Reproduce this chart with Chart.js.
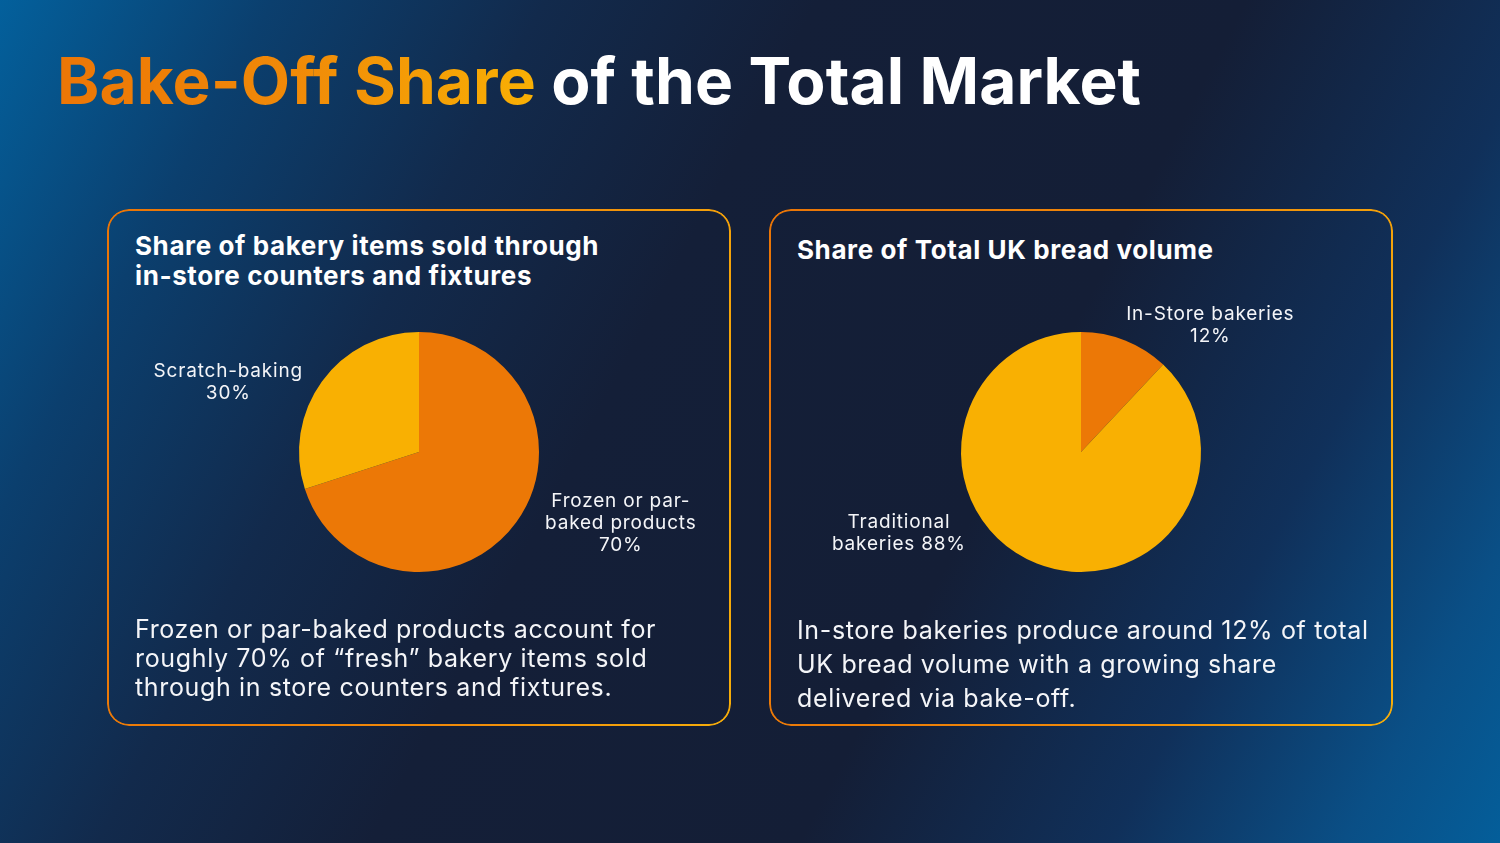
<!DOCTYPE html>
<html>
<head>
<meta charset="utf-8">
<script src="https://cdn.jsdelivr.net/npm/chart.js@4.4.1/dist/chart.umd.min.js"></script>
<style>
  html, body { margin: 0; padding: 0; }
  body {
    width: 1500px; height: 843px; overflow: hidden; position: relative;
    font-family: Inter, "Open Sans", sans-serif; color: #fff;
    background: linear-gradient(118deg, #03609c 0%, #0b3f6e 14%, #122a4c 28%, #141f38 42%, #141e36 64%, #10305a 80%, #0a4f86 92%, #045e9a 100%);
  }
  #title {
    position: absolute; left: 57px; top: 49px; margin: 0;
    font-size: 64px; line-height: 64px; font-weight: 700; white-space: nowrap; letter-spacing: 0.1px;
  }
  #title .hl {
    background: linear-gradient(90deg, #ec7606 0%, #f08a08 50%, #f9b004 100%);
    -webkit-background-clip: text; background-clip: text; color: transparent;
  }
  .card {
    position: absolute; top: 209px; width: 624px; height: 517px; border-radius: 22px;
  }
  .card::before {
    content: ""; position: absolute; inset: 0; border-radius: 22px; padding: 2px;
    background: linear-gradient(100deg, #ea7507 0%, #f08a0a 60%, #f6ad0a 100%);
    -webkit-mask: linear-gradient(#000 0 0) content-box, linear-gradient(#000 0 0);
    -webkit-mask-composite: xor; mask-composite: exclude;
  }
  #card1 { left: 107px; }
  #card2 { left: 769px; }
  .card h2 {
    position: absolute; left: 28px; margin: 0; font-size: 26px; line-height: 30px; font-weight: 700;
    letter-spacing: 0.6px; white-space: nowrap;
  }
  .card p {
    position: absolute; left: 28px; margin: 0; font-size: 25px; font-weight: 400; color: #f4f5f8;
    letter-spacing: 0.65px; white-space: nowrap;
  }
  .pie { position: absolute; left: 0; top: 71px; width: 624px; height: 344px; }
</style>
</head>
<body>
<h1 id="title"><span class="hl">Bake-Off Share</span> of the Total Market</h1>

<div class="card" id="card1">
  <h2 style="top:22px">Share of bakery items sold through<br>in-store counters and fixtures</h2>
  <div class="pie"><canvas id="pie1"></canvas></div>
  <p style="top:406px; line-height:29px">Frozen or par-baked products account for<br>roughly 70% of “fresh” bakery items sold<br>through in store counters and fixtures.</p>
</div>

<div class="card" id="card2">
  <h2 style="top:26px">Share of Total UK bread volume</h2>
  <div class="pie"><canvas id="pie2"></canvas></div>
  <p style="top:404px; line-height:34px">In-store bakeries produce around 12% of total<br>UK bread volume with a growing share<br>delivered via bake-off.</p>
</div>

<script>
// chart 1: in-store counters and fixtures
var categories1 = ["Frozen or par-\nbaked products", "Scratch-baking"];
var values1 = [70, 30];
// chart 2: total UK bread volume
var categories2 = ["In-Store bakeries", "Traditional\nbakeries"];
var values2 = [12, 88];

var ORANGE = "#ec7806";
var AMBER = "#f9b002";

// draws the category / percent labels just outside each slice
var outsideLabels = {
  id: "outsideLabels",
  afterDatasetsDraw: function (chart, args, opts) {
    var ctx = chart.ctx;
    var meta = chart.getDatasetMeta(0);
    var labels = chart.data.labels;
    var vals = chart.data.datasets[0].data;
    ctx.save();
    ctx.font = opts.font;
    ctx.letterSpacing = opts.spacing;
    ctx.fillStyle = opts.color;
    ctx.textAlign = "center";
    ctx.textBaseline = "middle";
    meta.data.forEach(function (arc, i) {
      var p = arc.getProps(["x", "y", "startAngle", "endAngle", "outerRadius"], true);
      var mid = (p.startAngle + p.endAngle) / 2;
      var lines = labels[i].split("\n");
      if (opts.inline[i]) {
        lines[lines.length - 1] += " " + vals[i] + "%";
      } else {
        lines.push(vals[i] + "%");
      }
      var w = Math.max.apply(null, lines.map(function (l) { return ctx.measureText(l).width; }));
      var ax = p.x + Math.cos(mid) * p.outerRadius;
      var ay = p.y + Math.sin(mid) * p.outerRadius;
      var side = Math.cos(mid) >= 0 ? 1 : -1;
      var cx = ax + side * (w / 2 + opts.gap) + opts.nudge[i][0];
      var cy = ay + opts.nudge[i][1];
      lines.forEach(function (l, k) {
        ctx.fillText(l, cx, cy + (k - (lines.length - 1) / 2) * opts.lineHeight);
      });
    });
    ctx.restore();
  }
};

function makePie(id, labels, values, colors, labelOpts) {
  return new Chart(document.getElementById(id), {
    type: "pie",
    data: {
      labels: labels,
      datasets: [{
        data: values,
        backgroundColor: colors,
        borderWidth: 0
      }]
    },
    options: {
      responsive: true,
      maintainAspectRatio: false,
      animation: false,
      layout: { padding: { top: 52, bottom: 52 } },
      plugins: {
        legend: { display: false },
        tooltip: { enabled: false },
        outsideLabels: labelOpts
      }
    },
    plugins: [outsideLabels]
  });
}

makePie("pie1", categories1, values1, [ORANGE, AMBER], {
  font: "400 19px Inter, sans-serif",
  spacing: "0.8px",
  color: "#f4f5f8",
  lineHeight: 22,
  gap: 25,
  inline: [false, false],
  nudge: [[4, 1], [6, 1]]
});

makePie("pie2", categories2, values2, [ORANGE, AMBER], {
  font: "400 19px Inter, sans-serif",
  spacing: "0.8px",
  color: "#f4f5f8",
  lineHeight: 22,
  gap: 25,
  inline: [false, true],
  nudge: [[-24, -15], [-46, -30]]
});
</script>
</body>
</html>
